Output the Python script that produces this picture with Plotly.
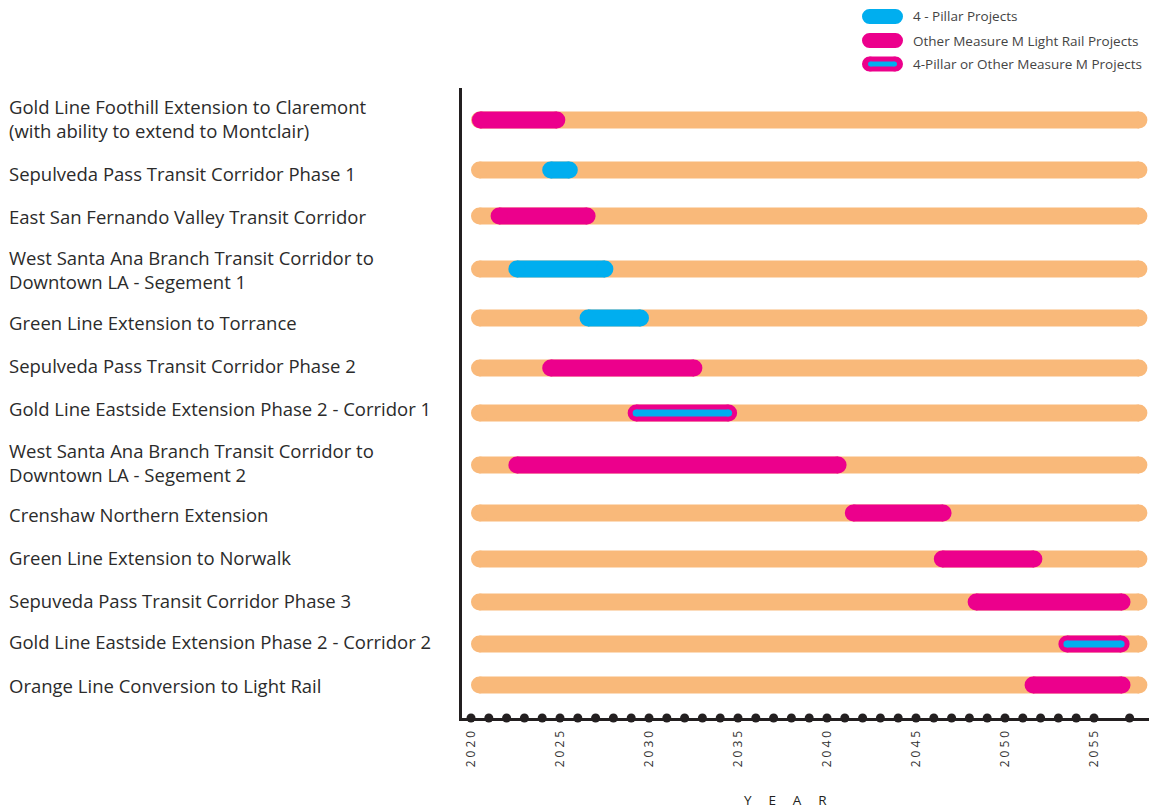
import plotly.graph_objects as go

# ---------------- data ----------------
projects = [
    "Gold Line Foothill Extension to Claremont<br>(with ability to extend to Montclair)",
    "Sepulveda Pass Transit Corridor Phase 1",
    "East San Fernando Valley Transit Corridor",
    "West Santa Ana Branch Transit Corridor to<br>Downtown LA - Segement 1",
    "Green Line Extension to Torrance",
    "Sepulveda Pass Transit Corridor Phase 2",
    "Gold Line Eastside Extension Phase 2 - Corridor 1",
    "West Santa Ana Branch Transit Corridor to<br>Downtown LA - Segement 2",
    "Crenshaw Northern Extension",
    "Green Line Extension to Norwalk",
    "Sepuveda Pass Transit Corridor Phase 3",
    "Gold Line Eastside Extension Phase 2 - Corridor 2",
    "Orange Line Conversion to Light Rail",
]
category = ["other", "pillar", "other", "pillar", "pillar", "other", "both",
            "other", "other", "other", "other", "both", "other"]
start_year = [2020.05, 2024.0, 2021.1, 2022.1, 2026.1, 2024.0, 2028.8,
              2022.1, 2041.0, 2046.0, 2047.9, 2053.0, 2051.1]
end_year = [2025.3, 2026.0, 2027.0, 2028.0, 2030.0, 2033.0, 2034.95,
            2041.1, 2047.0, 2052.1, 2057.05, 2057.0, 2057.05]
timeline_span = [2020.0, 2058.0]
year_dots = [2020, 2021, 2022, 2023, 2024, 2025, 2026, 2027, 2028, 2029,
             2030, 2031, 2032, 2033, 2034, 2035, 2036, 2037, 2038, 2039,
             2040, 2041, 2042, 2043, 2044, 2045, 2046, 2047, 2048, 2049,
             2050, 2051, 2052, 2053, 2054, 2055, 2057]
tick_years = [2020, 2025, 2030, 2035, 2040, 2045, 2050, 2055]
legend_labels = ["4 - Pillar Projects", "Other Measure M Light Rail Projects",
                 "4-Pillar or Other Measure M Projects"]

# ---------------- layout constants ----------------
W, H = 1149, 811
PL, PR, PT, PB = 462, 0, 88, 93          # plot area margins (px)
PX_PER_YEAR = 17.8
X0 = 2020 - 9 / PX_PER_YEAR
X1 = X0 + (W - PL - PR) / PX_PER_YEAR
PLOT_H = H - PT - PB
# vertical position of each row and its label (px from top of plot area)
row_pos = [32, 82, 128, 181, 230, 280, 325, 377, 425, 471, 514, 556, 597]
label_pos = [30.5, 85, 128, 181.5, 234, 277, 320, 374, 426, 469, 512, 553, 597]

ORANGE = "#F9B97A"
MAGENTA = "#EC008C"
BLUE = "#00AEEF"
DARK = "#231F20"
BAR_W = 17
INNER_W = 7
FONT = "'Open Sans', Lato, sans-serif"

cap = (BAR_W / 2) / PX_PER_YEAR     # half-height in years, for rounded caps

fig = go.Figure()


def pill(x0, x1, y, color, width, inset):
    xs = [x0 + inset, x1 - inset]
    fig.add_trace(go.Scatter(
        x=xs, y=[y, y], mode="lines+markers",
        line=dict(color=color, width=width),
        marker=dict(color=color, size=width, line=dict(width=0)),
        hoverinfo="skip", showlegend=False, cliponaxis=False))


for i, name in enumerate(projects):
    y = row_pos[i]
    pill(timeline_span[0], timeline_span[1], y, ORANGE, BAR_W, cap)
    s, e = start_year[i], end_year[i]
    if category[i] == "pillar":
        pill(s, e, y, BLUE, BAR_W, cap)
    elif category[i] == "other":
        pill(s, e, y, MAGENTA, BAR_W, cap)
    else:
        pill(s, e, y, MAGENTA, BAR_W, cap)
        pill(s, e, y, BLUE, INNER_W, cap)

# year dots on the x-axis
fig.add_trace(go.Scatter(
    x=year_dots, y=[PLOT_H] * len(year_dots), mode="markers",
    marker=dict(color=DARK, size=9, line=dict(width=0)),
    hoverinfo="skip", showlegend=False, cliponaxis=False))

annotations = []
# row labels
lab_x = (7 - PL) / (W - PL - PR)
for i, name in enumerate(projects):
    annotations.append(dict(
        x=lab_x, xref="paper", y=label_pos[i], yref="y",
        text=name, showarrow=False, xanchor="left", yanchor="middle",
        align="left", font=dict(family=FONT, size=18.5, color="#2b2b2b")))

# axis title
annotations.append(dict(
    x=(785 - PL) / (W - PL - PR), xref="paper",
    y=(H - PB - 800) / PLOT_H, yref="paper", yanchor="middle",
    text="Y\u2003\u2005E\u2003\u2005A\u2003\u2005R", showarrow=False,
    font=dict(family=FONT, size=13.5, color=DARK)))

# legend
shapes = []
leg_cx = (882.5 - PL) / (W - PL - PR)
leg_tx = (911 - PL) / (W - PL - PR)
leg_y_px = [16.5, 40.5, 64]


def legend_pill(cx, cy, half_len, r, color):
    shapes.append(dict(type="rect", xref="paper", yref="paper",
                       xsizemode="pixel", ysizemode="pixel",
                       xanchor=cx, yanchor=cy,
                       x0=-half_len, x1=half_len, y0=-r, y1=r,
                       fillcolor=color, line=dict(width=0)))
    for sx in (-half_len, half_len):
        shapes.append(dict(type="circle", xref="paper", yref="paper",
                           xsizemode="pixel", ysizemode="pixel",
                           xanchor=cx, yanchor=cy,
                           x0=sx - r, x1=sx + r, y0=-r, y1=r,
                           fillcolor=color, line=dict(width=0)))


for k, lab in enumerate(legend_labels):
    cy = (H - PB - leg_y_px[k]) / PLOT_H
    if k == 0:
        legend_pill(leg_cx, cy, 13, 7.5, BLUE)
    elif k == 1:
        legend_pill(leg_cx, cy, 13, 7.5, MAGENTA)
    else:
        legend_pill(leg_cx, cy, 13, 7.5, MAGENTA)
        legend_pill(leg_cx, cy, 12, 2.5, BLUE)
    annotations.append(dict(
        x=leg_tx, xref="paper", y=cy, yref="paper", text=lab,
        showarrow=False, xanchor="left", yanchor="middle",
        font=dict(family=FONT, size=13.5, color="#444444")))

fig.update_layout(
    width=W, height=H,
    margin=dict(l=PL, r=PR, t=PT, b=PB, pad=0),
    paper_bgcolor="white", plot_bgcolor="white",
    xaxis=dict(range=[X0, X1], showgrid=False, zeroline=False,
               showline=True, linecolor=DARK, linewidth=3,
               tickvals=tick_years,
               ticktext=["\u2005".join(str(t)) for t in tick_years],
               tickangle=-90, ticks="", ticklabelstandoff=5,
               tickfont=dict(family=FONT, size=12, color="#333333"),
               fixedrange=True),
    yaxis=dict(range=[PLOT_H, 0], showgrid=False, zeroline=False,
               showline=True, linecolor=DARK, linewidth=3,
               showticklabels=False, ticks="", fixedrange=True),
    annotations=annotations,
    shapes=shapes,
    showlegend=False,
)

fig.write_html("out.html")
